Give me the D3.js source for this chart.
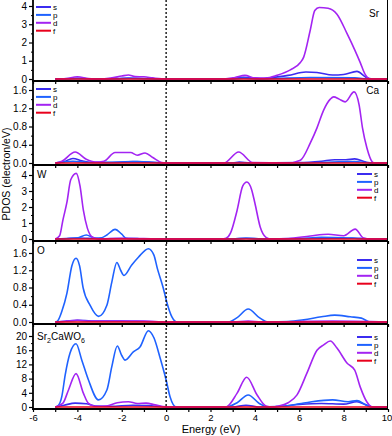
<!DOCTYPE html>
<html>
<head>
<meta charset="utf-8">
<script src="https://cdn.jsdelivr.net/npm/d3@7"></script>
<style>
  body { margin: 0; background: #fff; }
  svg { display: block; font-family: "Liberation Sans", Arial, sans-serif; }
</style>
</head>
<body>
<div id="chart"></div>
<script>
// Energy (eV) vs PDOS (electron/eV) pairs, one array per orbital and panel

var orbitals = ["s", "p", "d", "f"];
var orbColors = { s: "#3b2cf0", p: "#1f62ff", d: "#a324f2", f: "#e8001c" };
var xTickLabels = [-6, -4, -2, 0, 2, 4, 6, 8, 10];

// Sr
var srS = [[-5,0],[-4.4,0.01],[-4,0.04],[-3.5,0.01],[-3,0],[-2.2,0.02],[-1.7,0.05],[-1,0.03],[0,0],[2.8,0],[3.5,0.1],[4.2,0.02],[4.8,0.08],[5.5,0.2],[6.3,0.38],[6.8,0.36],[7.5,0.22],[8.0,0.25],[8.6,0.42],[9.0,0.1],[9.3,0],[10,0]];
var srP = [[-5,0],[-4,0.02],[-3,0],[-1.7,0.03],[0,0],[3,0],[3.5,0.04],[4.2,0],[5,0.03],[6.5,0.08],[8.5,0.06],[9.2,0],[10,0]];
var srD = [[-5,0],[-4.5,0.03],[-4,0.12],[-3.5,0.03],[-3,0],[-2.5,0.05],[-2,0.16],[-1.7,0.22],[-1.4,0.13],[-1,0.12],[-0.6,0.06],[0,0],[2.6,0],[3.1,0.08],[3.55,0.2],[4.0,0.06],[4.5,0.05],[5.0,0.2],[5.6,0.5],[6.05,0.9],[6.2,1.2],[6.5,2.7],[6.7,3.75],[6.9,3.92],[7.3,3.88],[7.7,3.55],[8.15,2.5],[8.5,1.6],[8.75,0.9],[8.95,0.3],[9.2,0],[10,0]];
var srF = [[-5,0],[10,0]];

// Ca
var caS = [[-5,0],[-4.6,0.03],[-4.2,0.1],[-3.8,0.05],[-3.3,0.01],[-2.5,0.01],[-1.5,0.03],[-0.8,0.02],[0,0],[3,0],[3.3,0.02],[3.8,0],[6,0.01],[7,0.04],[7.6,0.07],[8.1,0.07],[8.5,0.09],[9.0,0.02],[9.3,0],[10,0]];
var caP = [[-5,0],[-4.2,0.04],[-3.5,0.01],[-2,0.02],[-1.3,0.03],[0,0],[6,0],[7.5,0.02],[8.5,0.03],[9.2,0],[10,0]];
var caD = [[-5,0],[-4.7,0.04],[-4.1,0.24],[-3.6,0.08],[-3.2,0.02],[-2.8,0.04],[-2.3,0.23],[-1.9,0.23],[-1.6,0.23],[-1.3,0.17],[-0.95,0.22],[-0.6,0.12],[-0.2,0.01],[0,0],[2.6,0],[3.27,0.24],[3.9,0.01],[5.5,0],[6.05,0.06],[6.5,0.44],[6.8,0.77],[7.1,1.16],[7.4,1.4],[7.55,1.45],[7.8,1.4],[8.07,1.34],[8.47,1.56],[8.7,1.27],[8.85,0.77],[9.05,0.33],[9.3,0.02],[9.4,0],[10,0]];
var caF = [[-5,0],[10,0]];

// W
var wS = [[-5,0],[-4.5,0.03],[-4,0.06],[-3.5,0.04],[-3,0.01],[-2.3,0.03],[0,0],[3,0],[3.6,0.05],[4.3,0],[6,0.02],[7.5,0.05],[8.5,0.05],[9.2,0],[10,0]];
var wP = [[-5,0],[-4.5,0.02],[-4,0.06],[-3.6,0.25],[-3.2,0.06],[-2.9,0.08],[-2.67,0.25],[-2.3,0.6],[-2.0,0.3],[-1.8,0.05],[-1.2,0.02],[0,0],[3,0],[3.6,0.05],[4.3,0],[6,0.03],[7,0.1],[8,0.08],[8.5,0.05],[9.2,0],[10,0]];
var wD = [[-5,0],[-4.8,0.2],[-4.65,1.2],[-4.47,2.3],[-4.3,3.7],[-4.05,4.1],[-3.88,3.3],[-3.73,1.8],[-3.55,0.68],[-3.3,0.1],[-3,0.02],[-2,0.05],[0,0],[2.5,0],[2.7,0.05],[2.9,0.37],[3.2,1.8],[3.45,3.3],[3.64,3.56],[3.85,3.1],[4.0,2.25],[4.24,0.75],[4.5,0.1],[4.7,0],[5.5,0.03],[6.5,0.19],[7.3,0.3],[8.0,0.2],[8.52,0.62],[8.9,0.06],[9.2,0],[10,0]];
var wF = [[-5,0],[10,0]];

// O
var oS = [[-5,0],[-4.5,0.02],[-4,0.04],[-3,0.02],[-2,0.02],[-1,0.01],[0,0],[10,0]];
var oP = [[-5,0],[-4.9,0.02],[-4.7,0.25],[-4.47,0.67],[-4.25,1.3],[-4.06,1.48],[-3.9,1.3],[-3.74,0.79],[-3.43,0.39],[-3.05,0.13],[-2.67,0.39],[-2.45,0.92],[-2.22,1.38],[-2.05,1.2],[-1.9,1.08],[-1.55,1.32],[-1.25,1.5],[-0.8,1.7],[-0.55,1.55],[-0.4,1.25],[-0.13,0.79],[0.03,0.46],[0.26,0.12],[0.5,0],[2.8,0],[3.2,0.1],[3.7,0.3],[4.2,0.1],[4.6,0],[5.5,0.01],[6.2,0.05],[7,0.12],[7.6,0.16],[8.3,0.12],[8.8,0.09],[9.2,0],[10,0]];
var oD = [[-5,0],[-4.5,0.02],[-4,0.04],[-3.5,0.02],[-2,0.02],[-1,0.02],[0,0],[3,0],[3.7,0.02],[4.3,0],[7.5,0.02],[10,0]];
var oF = [[-5,0],[10,0]];

// Sr2CaWO6 total
var tS = [[-5,0],[-4.6,0.5],[-4.1,1.1],[-3.6,0.9],[-3.2,0.3],[-2.5,0.2],[-1.5,0.5],[-0.8,0.4],[0,0],[3,0],[3.6,0.5],[4.2,0],[5,0.1],[6,0.7],[7,1.0],[8,0.8],[8.6,1.5],[9,0.6],[9.3,0],[10,0]];
var tP = [[-5,0],[-4.85,0.5],[-4.7,3],[-4.55,9],[-4.33,15.2],[-4.06,17.8],[-3.8,13.2],[-3.5,7.6],[-3.05,2],[-2.67,4.8],[-2.45,11.3],[-2.2,17.2],[-2.0,14.5],[-1.85,13.2],[-1.48,15.5],[-1.17,17],[-0.8,21.5],[-0.55,19.5],[-0.27,13.8],[0,7.6],[0.18,2.8],[0.45,0],[2.7,0],[3.2,1.2],[3.7,3.4],[4.2,1],[4.6,0],[5.2,0.2],[6,0.9],[6.5,1.4],[7.5,2],[8.2,1.5],[8.6,1.8],[9,0.6],[9.3,0],[10,0]];
var tD = [[-5,0],[-4.65,1.1],[-4.4,4.8],[-4.06,9.4],[-3.73,3.9],[-3.5,1.0],[-3.2,0.2],[-2.7,0.3],[-2.2,1.2],[-1.7,1.5],[-1.3,1.0],[-0.9,1.1],[-0.5,0.6],[0,0.05],[0.3,0],[2.7,0],[3.2,3.9],[3.63,8.4],[4.1,3.4],[4.5,0.3],[4.8,0],[5.0,0.2],[5.5,1.2],[5.9,3.4],[6.35,9.6],[6.8,16],[7.1,17.5],[7.4,18.6],[7.7,16.6],[8.15,12.4],[8.5,10.4],[8.75,5.6],[9.05,1.4],[9.3,0],[10,0]];
var tF = [[-5,0],[10,0]];

/*  SVG SETUP  */
var svgWidth = 392, svgHeight = 436;
var svg = d3.select("#chart").append("svg")
    .attr("width", svgWidth)
    .attr("height", svgHeight);

var xScale = d3.scaleLinear().domain([-6, 10]).range([33, 388]);

// panel layout: zero line pixel, a reference tick and where it sits
var panels = [
  { name: "Sr", series: { s: srS, p: srP, d: srD, f: srF }, top: 0,   zeroY: 79,  refVal: 4,   refY: 6,   step: 1,   minor: 0.5, fmt: d3.format("d"),   max: 4,   label: "right", legend: "left",  legTop: 7 },
  { name: "Ca", series: { s: caS, p: caP, d: caD, f: caF }, top: 81,  zeroY: 163, refVal: 1.6, refY: 90,  step: 0.4, minor: 0.2, fmt: d3.format(".1f"), max: 1.6, label: "right", legend: "left",  legTop: 89 },
  { name: "W",  series: { s: wS,  p: wP,  d: wD,  f: wF },  top: 165, zeroY: 239, refVal: 4,   refY: 175, step: 1,   minor: 0.5, fmt: d3.format("d"),   max: 4,   label: "left",  legend: "right", legTop: 174 },
  { name: "O",  series: { s: oS,  p: oP,  d: oD,  f: oF },  top: 241, zeroY: 322, refVal: 1.6, refY: 253, step: 0.4, minor: 0.2, fmt: d3.format(".1f"), max: 1.6, label: "left",  legend: "right", legTop: 260 },
  { name: "total", series: { s: tS, p: tP, d: tD, f: tF },  top: 324, zeroY: 407, refVal: 20,  refY: 336, step: 4,   minor: 2,   fmt: d3.format("d"),   max: 20,  label: "left",  legend: "right", legTop: 337 }
];

var lineGen = d3.line().curve(d3.curveMonotoneX);

panels.forEach(function(pn, i) {
  var bottom = pn.zeroY + 2;
  var yScale = d3.scaleLinear().domain([0, pn.refVal]).range([pn.zeroY, pn.refY]);
  var g = svg.append("g");

  // clip to the panel
  g.append("clipPath").attr("id", "clip" + i)
    .append("rect").attr("x", 33).attr("y", pn.top).attr("width", 355).attr("height", bottom - pn.top);

  var plot = g.append("g").attr("clip-path", "url(#clip" + i + ")");
  lineGen.x(d => xScale(d[0])).y(d => yScale(d[1]));
  orbitals.forEach(function(o) {
    plot.append("path")
      .attr("d", lineGen(pn.series[o]))
      .attr("fill", "none")
      .attr("stroke", orbColors[o])
      .attr("stroke-width", 1.6);
  });

  // y axis: majors with labels, minors
  var majors = d3.range(0, pn.max + pn.step / 2, pn.step);
  var minorsArr = d3.range(pn.minor, pn.max + pn.step / 2, pn.step);
  var yAxis = d3.axisLeft(yScale).tickValues(majors).tickFormat(pn.fmt).tickSize(4).tickPadding(2);
  var ya = g.append("g").attr("transform", "translate(33,0)").call(yAxis);
  ya.select(".domain").remove();
  ya.selectAll("line").attr("stroke-width", 1.2);
  ya.selectAll("text").attr("font-size", 10).attr("fill", "#000")
    .attr("font-family", "Liberation Sans, Arial, sans-serif");
  g.append("g").attr("transform", "translate(33,0)")
    .call(d3.axisLeft(yScale).tickValues(minorsArr).tickFormat("").tickSize(2))
    .call(s => s.select(".domain").remove());

  // bottom x axis
  var xAxis = d3.axisBottom(xScale).tickValues(d3.range(-6, 11, 1)).tickSize(3)
    .tickFormat(i === panels.length - 1 ? (d => (xTickLabels.indexOf(d) >= 0 ? d : "")) : "");
  var xa = g.append("g").attr("transform", "translate(0," + bottom + ")").call(xAxis);
  xa.select(".domain").remove();
  xa.selectAll("line").attr("stroke-width", 1.2);
  xa.selectAll("text").attr("font-size", 9.5).attr("fill", "#000").attr("dy", "0.6em")
    .attr("font-family", "Liberation Sans, Arial, sans-serif")
    .attr("dx", d => (d === 10 ? -1.5 : 0));
  g.append("line")
    .attr("x1", 32).attr("x2", 388).attr("y1", bottom).attr("y2", bottom)
    .attr("stroke", "#000").attr("stroke-width", 1.8);

  // panel label
  if (pn.name === "total") {
    var t = g.append("text").attr("x", 37).attr("y", pn.top + 16).attr("font-size", 10);
    t.append("tspan").text("Sr");
    t.append("tspan").text("2").attr("font-size", 7).attr("dy", 3);
    t.append("tspan").text("CaWO").attr("dy", -3);
    t.append("tspan").text("6").attr("font-size", 7).attr("dy", 3);
  } else if (pn.label === "right") {
    g.append("text").attr("x", 379).attr("y", pn.top + 17 - (i === 0 ? 0 : 4))
      .attr("text-anchor", "end").attr("font-size", 10).text(pn.name);
  } else {
    g.append("text").attr("x", 37).attr("y", pn.top + 13).attr("font-size", 10).text(pn.name);
  }

  // legend
  var lx = pn.legend === "left" ? 36 : 357;
  var lg = g.append("g").attr("transform", "translate(" + lx + "," + pn.legTop + ")");
  orbitals.forEach(function(o, k) {
    var row = lg.append("g").attr("transform", "translate(0," + (k * 7.9) + ")");
    row.append("line").attr("x1", 0).attr("x2", 15).attr("y1", 0).attr("y2", 0)
      .attr("stroke", orbColors[o]).attr("stroke-width", 2);
    row.append("text").attr("x", 17).attr("y", 3).attr("font-size", 8).text(o);
  });
});

// left axis line and right frame
svg.append("line").attr("x1", 33).attr("x2", 33).attr("y1", 0).attr("y2", 410)
  .attr("stroke", "#000").attr("stroke-width", 1.8);
svg.append("line").attr("x1", 387.5).attr("x2", 387.5).attr("y1", 0).attr("y2", 410)
  .attr("stroke", "#000").attr("stroke-width", 1);

// Fermi level
svg.append("line")
  .attr("x1", xScale(0)).attr("x2", xScale(0)).attr("y1", 0).attr("y2", 409)
  .attr("stroke", "#000").attr("stroke-width", 1.3).attr("stroke-dasharray", "2,2");

// axis titles
svg.append("text").attr("x", 211).attr("y", 433).attr("text-anchor", "middle")
  .attr("font-size", 11).text("Energy (eV)");
svg.append("text").attr("transform", "translate(10,174) rotate(-90)")
  .attr("text-anchor", "middle").attr("font-size", 10.5).text("PDOS (electron/eV)");
</script>
</body>
</html>
